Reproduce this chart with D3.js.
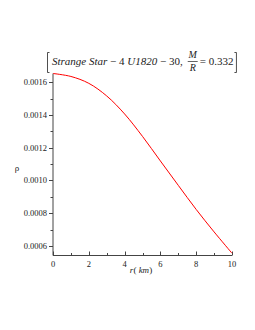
<!DOCTYPE html>
<html><head><meta charset="utf-8">
<script src="https://cdn.jsdelivr.net/npm/d3@7"></script>
<style>body{margin:0;background:#fff}svg{display:block}</style>
</head><body>
<script>
const rValues = [0,1,2,3,4,5,6,7,8,9,10];
const rhoValues = [0.001653,0.001635,0.001593,0.001516,0.001406,0.001269,0.001119,0.000970,0.000823,0.000686,0.000556];
const xTicks = [0,2,4,6,8,10];
const yTicks = [0.0006,0.0008,0.0010,0.0012,0.0014,0.0016];
const yTickLabels = ["0.0006","0.0008","0.0010","0.0012","0.0014","0.0016"];

const W=255,H=330;
const svg=d3.select("body").append("svg").attr("width",W).attr("height",H);
const x=d3.scaleLinear().domain([0,10]).range([53,232]);
const y=d3.scaleLinear().domain([0.000542,0.001653]).range([255.5,73.5]);
const serif="'Liberation Serif','DejaVu Serif',serif";
const axisCol="#444";

// y axis
const ya=svg.append("g").attr("transform","translate(53,0)");
ya.append("line").attr("y1",y.range()[1]).attr("y2",y.range()[0]).attr("stroke",axisCol);
const yMinor=d3.range(0.0006,0.00166,0.0001);
ya.selectAll(".ym").data(yMinor).join("line").attr("x1",0).attr("x2",-2.5)
  .attr("y1",d=>Math.round(y(d))+0.5).attr("y2",d=>Math.round(y(d))+0.5).attr("stroke",axisCol);
ya.selectAll(".yt").data(yTicks).join("line").attr("x1",0).attr("x2",-4)
  .attr("y1",d=>Math.round(y(d))+0.5).attr("y2",d=>Math.round(y(d))+0.5).attr("stroke",axisCol);
ya.selectAll("text").data(yTicks).join("text").attr("x",-6).attr("y",d=>y(d)+3)
  .attr("text-anchor","end").attr("font-family",serif).attr("font-size",8.5).attr("fill","#222")
  .text((d,i)=>yTickLabels[i]);

// x axis
const xa=svg.append("g").attr("transform","translate(0,255.5)");
xa.append("line").attr("x1",53).attr("x2",232).attr("stroke",axisCol);
xa.selectAll(".xm").data(d3.range(1,10,2)).join("line").attr("y1",0).attr("y2",-2.5)
  .attr("x1",d=>Math.round(x(d))+0.5).attr("x2",d=>Math.round(x(d))+0.5).attr("stroke",axisCol);
xa.selectAll(".xt").data(xTicks).join("line").attr("y1",0).attr("y2",-4)
  .attr("x1",d=>Math.round(x(d))+0.5).attr("x2",d=>Math.round(x(d))+0.5).attr("stroke",axisCol);
xa.selectAll("text").data(xTicks).join("text").attr("x",d=>x(d)).attr("y",11)
  .attr("text-anchor","middle").attr("font-family",serif).attr("font-size",8.5).attr("fill","#222")
  .text(d=>d);

// curve
svg.append("path").datum(rValues.map((r,i)=>[r,rhoValues[i]]))
  .attr("d",d3.line().x(d=>x(d[0])).y(d=>y(d[1])).curve(d3.curveCatmullRom))
  .attr("fill","none").attr("stroke","#ff0000").attr("stroke-width",1);

// axis labels
svg.append("text").attr("x",17).attr("y",171).attr("font-family",serif).attr("font-size",9)
  .attr("text-anchor","middle").attr("fill","#222").text("ρ");
const xl=svg.append("text").attr("x",141).attr("y",273).attr("font-family",serif).attr("font-size",9)
  .attr("text-anchor","middle").attr("fill","#222");
xl.append("tspan").attr("font-style","italic").text("r");
xl.append("tspan").text("(\u00a0");
xl.append("tspan").attr("font-style","italic").text("km");
xl.append("tspan").text(")");

// title
const t=svg.append("g");
const fs=11;
const tt=t.append("text").attr("x",52).attr("y",64.5).attr("font-family",serif).attr("font-size",fs).attr("fill","#222");
tt.append("tspan").attr("font-style","italic").text("Strange Star");
tt.append("tspan").text(" − 4 ");
tt.append("tspan").attr("font-style","italic").text("U1820");
tt.append("tspan").text(" − 30,");
const bb=tt.node().getComputedTextLength();
const fx=52+bb+10;
t.append("text").attr("x",fx).attr("y",58).attr("text-anchor","middle").attr("font-family",serif)
  .attr("font-style","italic").attr("font-size",10).attr("fill","#222").text("M");
t.append("text").attr("x",fx).attr("y",70.5).attr("text-anchor","middle").attr("font-family",serif)
  .attr("font-style","italic").attr("font-size",10).attr("fill","#222").text("R");
t.append("line").attr("x1",fx-5).attr("x2",fx+5).attr("y1",61.5).attr("y2",61.5).attr("stroke","#222").attr("stroke-width",0.7);
const rt=t.append("text").attr("x",fx+7).attr("y",64.5).attr("font-family",serif).attr("font-size",fs).attr("fill","#222").text("= 0.332");
const rEnd=fx+7+rt.node().getComputedTextLength()+3;
t.append("path").attr("d",`M49.5,52.5 H47.5 V72.5 H49.5`).attr("fill","none").attr("stroke","#222").attr("stroke-width",0.8);
t.append("path").attr("d",`M${rEnd-2},52.5 H${rEnd} V72.5 H${rEnd-2}`).attr("fill","none").attr("stroke","#222").attr("stroke-width",0.8);
</script>
</body></html>
